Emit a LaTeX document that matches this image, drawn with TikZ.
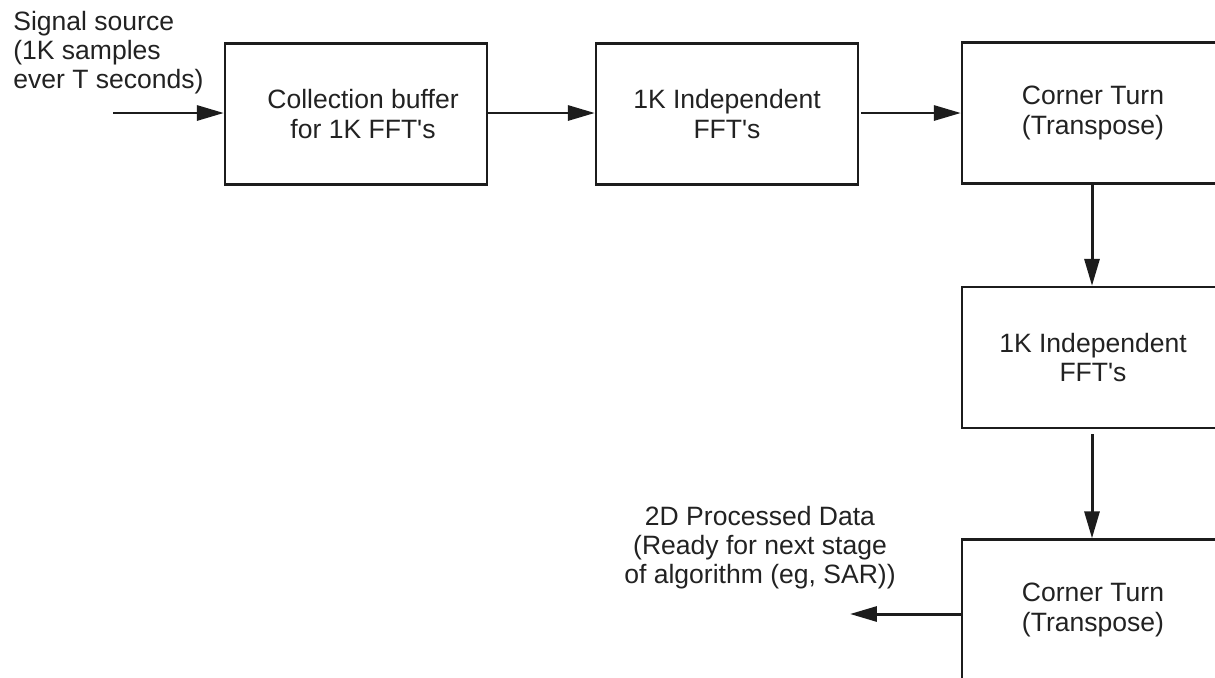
\documentclass[tikz,border=0pt]{standalone}
\usepackage{fontspec}
\newfontfamily\lib{Liberation Sans}
\usetikzlibrary{arrows.meta}
\definecolor{ink}{HTML}{1C1C1C}
\definecolor{txt}{HTML}{222222}
\tikzset{
  stage/.style={draw=ink, line width=1.3pt, minimum width=262*0.02cm, minimum height=141*0.02cm,
    align=center, inner sep=0pt, text=txt, font=\lib\fontsize{15.1}{16.6}\selectfont},
  lbl/.style={align=center, inner sep=0pt, text=txt, font=\lib\fontsize{15.1}{16.4}\selectfont},
  arr/.style={draw=ink, line width=1.7pt, -{Triangle[length=15.3pt,width=8.5pt]}},
}
\begin{document}
\begin{tikzpicture}[x=0.02cm, y=-0.02cm]
\useasboundingbox (0,0) rectangle (1215,677);
\clip (0,0) rectangle (1215,677);
\fill[white] (0,0) rectangle (1215,677);

\node[stage] (box1) at (356,114) {\hspace*{14\dimexpr0.02cm\relax}Collection buffer\\\hspace*{14\dimexpr0.02cm\relax}for 1K FFT's};
\node[stage] (box2) at (727,114) {1K Independent\\FFT's};
\node[stage] (box3) at (1093,113) {Corner Turn\\(Transpose)};
\node[stage] (box4) at (1093,357.5) {1K Independent\\FFT's};
\node[stage] (box5) at (1093,610) {Corner Turn\\(Transpose)};

\node[lbl, align=left, anchor=base west] (src) at (13,88) {Signal source\\(1K samples\\ever T seconds)};
\node[lbl, anchor=base] (outlbl) at (760,583) {2D Processed Data\\(Ready for next stage\\of algorithm (eg, SAR))};

\coordinate (in) at (113,113);
\coordinate (out) at (850,614);

\draw[arr] (in) -- (in -| box1.west);
\draw[arr] (box1.east |- in) -- (box2.west |- in);
\draw[arr] ([xshift=2*0.02cm]box2.east |- in) -- (box3.west |- in);
\draw[arr] (box3.south -| 1092,0) -- (box4.north -| 1092,0);
\draw[arr] ([yshift=-5*0.02cm]box4.south -| 1092,0) -- (box5.north -| 1092,0);
\draw[arr] (out -| box5.west) -- (out);
\end{tikzpicture}
\end{document}
